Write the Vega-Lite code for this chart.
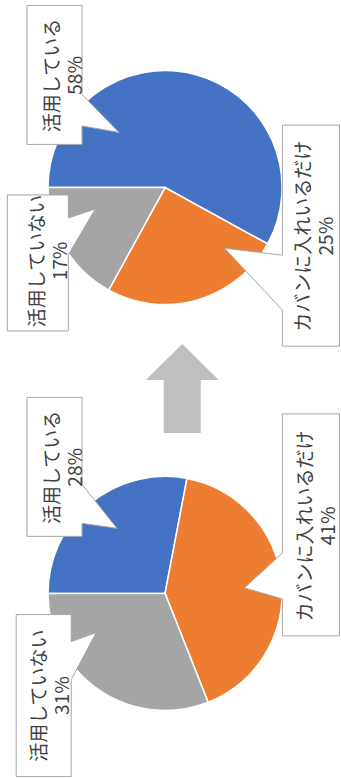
{
  "$schema": "https://vega.github.io/schema/vega-lite/v6.json",
  "width": 341,
  "height": 778,
  "padding": 0,
  "autosize": {"type": "fit", "contains": "padding"},
  "background": "white",
  "config": {"view": {"stroke": null}},
  "data": {"values": [
    {"period": "after", "category": "活用している", "value": 58},
    {"period": "after", "category": "カバンに入れいるだけ", "value": 25},
    {"period": "after", "category": "活用していない", "value": 17},
    {"period": "before", "category": "活用している", "value": 28},
    {"period": "before", "category": "カバンに入れいるだけ", "value": 41},
    {"period": "before", "category": "活用していない", "value": 31}
  ]},
  "transform": [
    {"calculate": "indexof(['活用している','カバンに入れいるだけ','活用していない'], datum.category)", "as": "ord"},
    {"calculate": "datum.category + '\\n' + datum.value + '%'", "as": "label"}
  ],
  "layer": [
    {
      "transform": [{"filter": "datum.period === 'after'"}],
      "mark": {"type": "arc", "outerRadius": 117, "stroke": "white", "strokeWidth": 1.5},
      "encoding": {
        "theta": {"field": "value", "type": "quantitative", "stack": true, "scale": {"range": [4.712389, 10.995574]}},
        "order": {"field": "ord", "type": "quantitative"},
        "color": {"field": "category", "type": "nominal", "legend": null, "scale": {"domain": ["活用している", "カバンに入れいるだけ", "活用していない"], "range": ["#4472C4", "#ED7D31", "#A5A5A5"]}},
        "x": {"datum": 168, "type": "quantitative", "axis": null, "scale": {"domain": [0, 341], "nice": false, "zero": false}},
        "y": {"datum": 189, "type": "quantitative", "axis": null, "scale": {"domain": [0, 778], "nice": false, "zero": false, "reverse": true}}
      }
    },
    {
      "transform": [{"filter": "datum.period === 'before'"}],
      "mark": {"type": "arc", "outerRadius": 117, "stroke": "white", "strokeWidth": 1.5},
      "encoding": {
        "theta": {"field": "value", "type": "quantitative", "stack": true, "scale": {"range": [4.712389, 10.995574]}},
        "order": {"field": "ord", "type": "quantitative"},
        "color": {"field": "category", "type": "nominal", "legend": null},
        "x": {"datum": 168, "type": "quantitative", "axis": null, "scale": {"domain": [0, 341], "nice": false, "zero": false}},
        "y": {"datum": 598, "type": "quantitative", "axis": null, "scale": {"domain": [0, 778], "nice": false, "zero": false, "reverse": true}}
      }
    },
    {
      "transform": [{"aggregate": [{"op": "count", "as": "n"}]}],
      "mark": {"type": "point", "shape": "M0,-44.5L36.5,-8.5H18.5V44.5H-18.5V-8.5H-36.5Z", "size": 4, "filled": true, "fill": "#BFBFBF", "strokeWidth": 0, "opacity": 1},
      "encoding": {
        "x": {"datum": 185.5, "type": "quantitative", "axis": null, "scale": {"domain": [0, 341], "nice": false, "zero": false}},
        "y": {"datum": 391.5, "type": "quantitative", "axis": null, "scale": {"domain": [0, 778], "nice": false, "zero": false, "reverse": true}}
      }
    },
    {
      "transform": [{"filter": "datum.period === 'after' && datum.category === '活用している'"}],
      "layer": [
        {
          "mark": {"type": "point", "shape": "M-27.5,-69.5H27.5V19.5L64.5,57.5L27.5,51V69.5H-27.5Z", "size": 4, "filled": true, "fill": "white", "stroke": "#A6A6A6", "strokeWidth": 1, "opacity": 1},
          "encoding": {
            "x": {"datum": 55.5, "type": "quantitative", "axis": null, "scale": {"domain": [0, 341], "nice": false, "zero": false}},
            "y": {"datum": 75.5, "type": "quantitative", "axis": null, "scale": {"domain": [0, 778], "nice": false, "zero": false, "reverse": true}}
          }
        },
        {
          "mark": {"type": "text", "angle": 270, "align": "center", "baseline": "middle", "lineBreak": "\n", "lineHeight": 23, "font": "Noto Sans CJK JP", "fontSize": 19, "color": "#404040"},
          "encoding": {
            "x": {"datum": 54, "type": "quantitative", "axis": null, "scale": {"domain": [0, 341], "nice": false, "zero": false}},
            "y": {"datum": 76, "type": "quantitative", "axis": null, "scale": {"domain": [0, 778], "nice": false, "zero": false, "reverse": true}},
            "text": {"field": "label", "type": "nominal"}
          }
        }
      ]
    },
    {
      "transform": [{"filter": "datum.period === 'after' && datum.category === '活用していない'"}],
      "layer": [
        {
          "mark": {"type": "point", "shape": "M-30.5,-68H30.5V-45L57.5,-54L30.5,-8V68H-30.5Z", "size": 4, "filled": true, "fill": "white", "stroke": "#A6A6A6", "strokeWidth": 1, "opacity": 1},
          "encoding": {
            "x": {"datum": 38.5, "type": "quantitative", "axis": null, "scale": {"domain": [0, 341], "nice": false, "zero": false}},
            "y": {"datum": 265, "type": "quantitative", "axis": null, "scale": {"domain": [0, 778], "nice": false, "zero": false, "reverse": true}}
          }
        },
        {
          "mark": {"type": "text", "angle": 270, "align": "center", "baseline": "middle", "lineBreak": "\n", "lineHeight": 23, "font": "Noto Sans CJK JP", "fontSize": 19, "color": "#404040"},
          "encoding": {
            "x": {"datum": 39, "type": "quantitative", "axis": null, "scale": {"domain": [0, 341], "nice": false, "zero": false}},
            "y": {"datum": 263, "type": "quantitative", "axis": null, "scale": {"domain": [0, 778], "nice": false, "zero": false, "reverse": true}},
            "text": {"field": "label", "type": "nominal"}
          }
        }
      ]
    },
    {
      "transform": [{"filter": "datum.period === 'after' && datum.category === 'カバンに入れいるだけ'"}],
      "layer": [
        {
          "mark": {"type": "point", "shape": "M-28.5,-110.5H28.5V110.5H-28.5V74.5L-86.5,12.5L-28.5,19.5Z", "size": 4, "filled": true, "fill": "white", "stroke": "#A6A6A6", "strokeWidth": 1, "opacity": 1},
          "encoding": {
            "x": {"datum": 316.5, "type": "quantitative", "axis": null, "scale": {"domain": [0, 341], "nice": false, "zero": false}},
            "y": {"datum": 237.5, "type": "quantitative", "axis": null, "scale": {"domain": [0, 778], "nice": false, "zero": false, "reverse": true}}
          }
        },
        {
          "mark": {"type": "text", "angle": 270, "align": "center", "baseline": "middle", "lineBreak": "\n", "lineHeight": 23, "font": "Noto Sans CJK JP", "fontSize": 19, "color": "#404040"},
          "encoding": {
            "x": {"datum": 309, "type": "quantitative", "axis": null, "scale": {"domain": [0, 341], "nice": false, "zero": false}},
            "y": {"datum": 238, "type": "quantitative", "axis": null, "scale": {"domain": [0, 778], "nice": false, "zero": false, "reverse": true}},
            "text": {"field": "label", "type": "nominal"}
          }
        }
      ]
    },
    {
      "transform": [{"filter": "datum.period === 'before' && datum.category === '活用している'"}],
      "layer": [
        {
          "mark": {"type": "point", "shape": "M-27.5,-69.5H27.5V17.5L62.5,61.5L27.5,56.5V69.5H-27.5Z", "size": 4, "filled": true, "fill": "white", "stroke": "#A6A6A6", "strokeWidth": 1, "opacity": 1},
          "encoding": {
            "x": {"datum": 55.5, "type": "quantitative", "axis": null, "scale": {"domain": [0, 341], "nice": false, "zero": false}},
            "y": {"datum": 470.5, "type": "quantitative", "axis": null, "scale": {"domain": [0, 778], "nice": false, "zero": false, "reverse": true}}
          }
        },
        {
          "mark": {"type": "text", "angle": 270, "align": "center", "baseline": "middle", "lineBreak": "\n", "lineHeight": 23, "font": "Noto Sans CJK JP", "fontSize": 19, "color": "#404040"},
          "encoding": {
            "x": {"datum": 54, "type": "quantitative", "axis": null, "scale": {"domain": [0, 341], "nice": false, "zero": false}},
            "y": {"datum": 471, "type": "quantitative", "axis": null, "scale": {"domain": [0, 778], "nice": false, "zero": false, "reverse": true}},
            "text": {"field": "label", "type": "nominal"}
          }
        }
      ]
    },
    {
      "transform": [{"filter": "datum.period === 'before' && datum.category === '活用していない'"}],
      "layer": [
        {
          "mark": {"type": "point", "shape": "M-27.5,-81H27.5V-54L52.5,-63L27.5,-16V81H-27.5Z", "size": 4, "filled": true, "fill": "white", "stroke": "#A6A6A6", "strokeWidth": 1, "opacity": 1},
          "encoding": {
            "x": {"datum": 44.5, "type": "quantitative", "axis": null, "scale": {"domain": [0, 341], "nice": false, "zero": false}},
            "y": {"datum": 701, "type": "quantitative", "axis": null, "scale": {"domain": [0, 778], "nice": false, "zero": false, "reverse": true}}
          }
        },
        {
          "mark": {"type": "text", "angle": 270, "align": "center", "baseline": "middle", "lineBreak": "\n", "lineHeight": 23, "font": "Noto Sans CJK JP", "fontSize": 19, "color": "#404040"},
          "encoding": {
            "x": {"datum": 41, "type": "quantitative", "axis": null, "scale": {"domain": [0, 341], "nice": false, "zero": false}},
            "y": {"datum": 701, "type": "quantitative", "axis": null, "scale": {"domain": [0, 778], "nice": false, "zero": false, "reverse": true}},
            "text": {"field": "label", "type": "nominal"}
          }
        }
      ]
    },
    {
      "transform": [{"filter": "datum.period === 'before' && datum.category === 'カバンに入れいるだけ'"}],
      "layer": [
        {
          "mark": {"type": "point", "shape": "M-28.5,-111H28.5V111H-28.5V74L-66.5,63L-28.5,28Z", "size": 4, "filled": true, "fill": "white", "stroke": "#A6A6A6", "strokeWidth": 1, "opacity": 1},
          "encoding": {
            "x": {"datum": 316.5, "type": "quantitative", "axis": null, "scale": {"domain": [0, 341], "nice": false, "zero": false}},
            "y": {"datum": 529, "type": "quantitative", "axis": null, "scale": {"domain": [0, 778], "nice": false, "zero": false, "reverse": true}}
          }
        },
        {
          "mark": {"type": "text", "angle": 270, "align": "center", "baseline": "middle", "lineBreak": "\n", "lineHeight": 23, "font": "Noto Sans CJK JP", "fontSize": 19, "color": "#404040"},
          "encoding": {
            "x": {"datum": 311, "type": "quantitative", "axis": null, "scale": {"domain": [0, 341], "nice": false, "zero": false}},
            "y": {"datum": 530, "type": "quantitative", "axis": null, "scale": {"domain": [0, 778], "nice": false, "zero": false, "reverse": true}},
            "text": {"field": "label", "type": "nominal"}
          }
        }
      ]
    }
  ]
}
